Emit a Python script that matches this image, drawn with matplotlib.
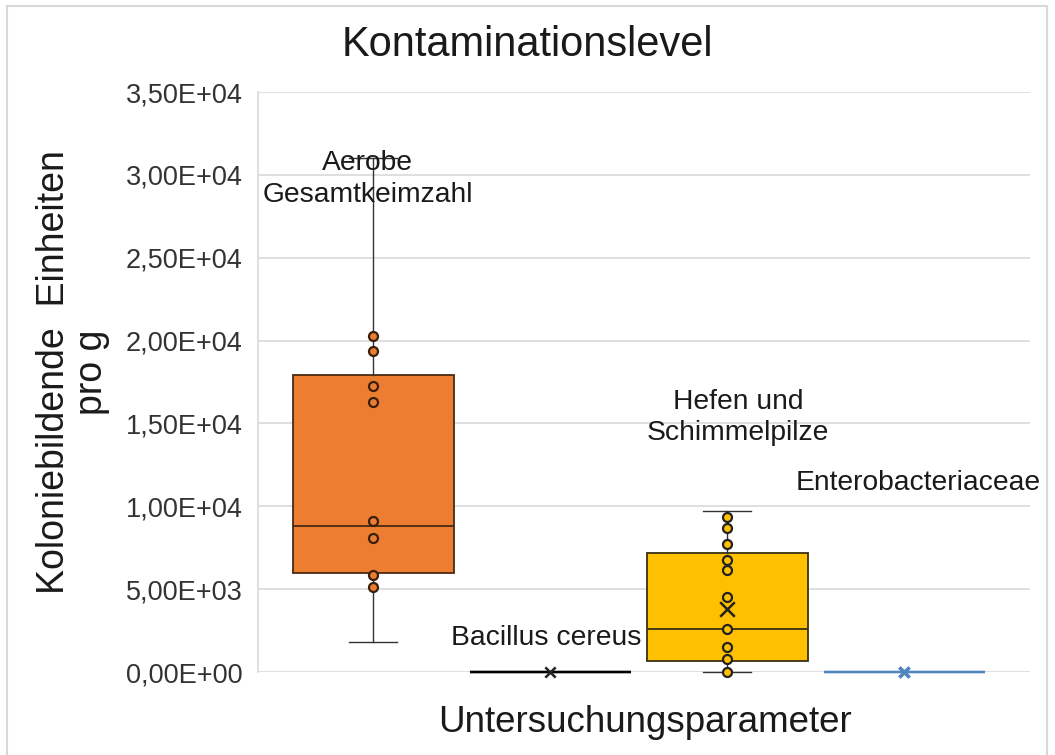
import matplotlib
matplotlib.use("Agg")
import matplotlib.pyplot as plt
from matplotlib.patches import Rectangle

plt.rcParams['font.family'] = ['Liberation Sans', 'DejaVu Sans']

# ---- data ----
categories = ["Aerobe\nGesamtkeimzahl", "Bacillus cereus",
              "Hefen und\nSchimmelpilze", "Enterobacteriaceae"]
whislo = [1800, 0, 0, 0]
q1 = [6000, 0, 660, 0]
med = [8800, 0, 2600, 0]
q3 = [17900, 0, 7170, 0]
whishi = [31000, 0, 9700, 0]
means = [None, 0, 3800, 0]
aerobe_pts = [20300, 19400, 17260, 16300, 9100, 8100, 5850, 5100]
bacillus_pts = []
hefen_pts = [9350, 8700, 7700, 6750, 6150, 4530, 2600, 1510, 780, 0]
entero_pts = []
inner_points = [aerobe_pts, bacillus_pts, hefen_pts, entero_pts]
yticks = [0, 5000, 10000, 15000, 20000, 25000, 30000, 35000]
ytick_labels = ["0,00E+00", "5,00E+03", "1,00E+04", "1,50E+04",
                "2,00E+04", "2,50E+04", "3,00E+04", "3,50E+04"]

# label anchor positions (x, y in data units)
label_x = [-0.03, 0.98, 2.06, 3.08]
label_y = [29750, 2050, 15330, 11400]

fills = ["#ED7D31", "#000000", "#FFC000", "#5B9BD5"]
edges = ["#4a2a12", "#000000", "#3a3010", "#4F86C0"]
pt_edges = ["#3a200c", "#000000", "#222222", "#4F86C0"]

fig = plt.figure(figsize=(10.55, 7.55), dpi=100)
ax = fig.add_axes([258 / 1055, 1 - 672 / 755, (1030 - 258) / 1055, (672 - 92) / 755])

positions = list(range(len(categories)))
for i in positions:
    stats = [dict(whislo=whislo[i], q1=q1[i], med=med[i], q3=q3[i],
                  whishi=whishi[i], fliers=[], label=categories[i])]
    flat = q1[i] == q3[i]
    art = ax.bxp(stats, positions=[i], widths=0.91, patch_artist=True,
                 showfliers=False, showcaps=not flat, manage_ticks=False,
                 boxprops=dict(facecolor=fills[i] if not flat else "none",
                               edgecolor=edges[i] if not flat else fills[i],
                               linewidth=1.3 if not flat else 1.7),
                 medianprops=dict(color=edges[i], linewidth=1.3 if not flat else 1.7),
                 whiskerprops=dict(color="#333333", linewidth=1.0),
                 capprops=dict(color="#333333", linewidth=1.0),
                 capwidths=0.27, zorder=3)
    for group in art.values():
        for a in group:
            a.set_clip_on(False)
    pts = inner_points[i]
    if pts:
        ax.scatter([i] * len(pts), pts, s=42, facecolor=fills[i],
                   edgecolor=pt_edges[i], linewidth=1.6, zorder=5, clip_on=False)
    if means[i] is not None:
        mcol = "#222222" if i != 3 else "#4F86C0"
        ax.scatter([i], [means[i]], marker="x", s=110 if i == 2 else 55,
                   color=mcol, linewidth=1.8 if i != 3 else 2.6, zorder=6,
                   clip_on=False)
    ax.text(label_x[i], label_y[i], categories[i], ha="center", va="center",
            fontsize=20.3, color="#1a1a1a", linespacing=1.25, zorder=7)

ax.set_xlim(-0.65, 3.71)
ax.set_ylim(0, 35000)
ax.set_yticks(yticks)
ax.set_yticklabels(ytick_labels, fontsize=19.5, color="#333333")
ax.set_xticks([])
ax.tick_params(axis="y", length=0, pad=11)
ax.grid(axis="y", color="#d9d9d9", linewidth=1.2, zorder=0)
ax.set_axisbelow(True)
for s in ["top", "right", "bottom"]:
    ax.spines[s].set_visible(False)
ax.spines["left"].set_color("#d9d9d9")
ax.spines["left"].set_linewidth(1.2)

fig.text(527 / 1055, 1 - 45 / 755, "Kontaminationslevel", ha="center",
         va="center", fontsize=30, color="#1a1a1a")
fig.text(73 / 1055, 1 - 372 / 755, "Koloniebildende  Einheiten\npro g",
         ha="center", va="center", rotation=90, fontsize=27,
         color="#1a1a1a", multialignment="center", linespacing=1.05)
fig.text(645 / 1055, 1 - 722 / 755, "Untersuchungsparameter", ha="center",
         va="center", fontsize=26.5, color="#1a1a1a")

fig.patches.append(Rectangle((7 / 1055, -0.01), (1047 - 7) / 1055, 1 - 6 / 755 + 0.01,
                             transform=fig.transFigure, fill=False,
                             edgecolor="#d9d9d9", linewidth=1.5))

fig.savefig("out.png", dpi=100)
